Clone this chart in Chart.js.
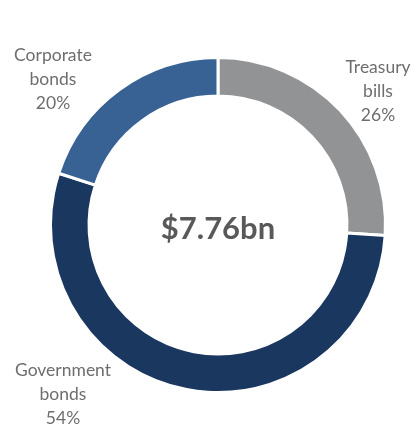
<!DOCTYPE html>
<html>
<head>
<meta charset="utf-8">
<script src="https://cdn.jsdelivr.net/npm/chart.js@4"></script>
<style>
    html, body { margin: 0; padding: 0; background: #fff; }
    #wrap { width: 418px; height: 425px; }
</style>
</head>
<body>
<div id="wrap"><canvas id="chart" width="418" height="425"></canvas></div>
<script>
// данные
const categories = ["Treasury bills", "Government bonds", "Corporate bonds"]
const shares = [26, 54, 20]
const colors = ["#929395", "#1a375f", "#386294"]
const totalLabel = "$7.76bn"

// подписи: строки и смещение от центра кольца
const labelLines = [
    ["Treasury", "bills", "26%"],
    ["Government", "bonds", "54%"],
    ["Corporate", "bonds", "20%"]
]
const labelOffsets = [[160, -158], [-155, 145], [-165, -170]]

const textPlugin = {
    id: "texts",
    afterDraw: (chart) => {
        const ctx = chart.ctx
        const arc = chart.getDatasetMeta(0).data[0]
        const cx = arc.x, cy = arc.y
        ctx.save()
        ctx.textAlign = "center"
        ctx.textBaseline = "middle"

        ctx.fillStyle = "#595959"
        ctx.font = "bold 31px Lato"
        ctx.fillText(totalLabel, cx, cy + 4)

        ctx.fillStyle = "#6e6e6e"
        ctx.font = "17.5px Lato"
        labelLines.forEach((lines, i) => {
            const [dx, dy] = labelOffsets[i]
            lines.forEach((line, j) => {
                ctx.fillText(line, cx + dx, cy + dy + j * 24)
            })
        })
        ctx.restore()
    }
}

new Chart(document.getElementById("chart"), {
    type: "doughnut",
    data: {
        labels: categories,
        datasets: [{
            data: shares,
            backgroundColor: colors,
            borderColor: "#ffffff",
            borderWidth: 3
        }]
    },
    options: {
        responsive: false,
        animation: false,
        cutout: "77%",
        layout: { padding: { left: 49, right: 31, top: 56, bottom: 31 } },
        plugins: {
            legend: { display: false },
            tooltip: { enabled: false }
        }
    },
    plugins: [textPlugin]
})
</script>
</body>
</html>
